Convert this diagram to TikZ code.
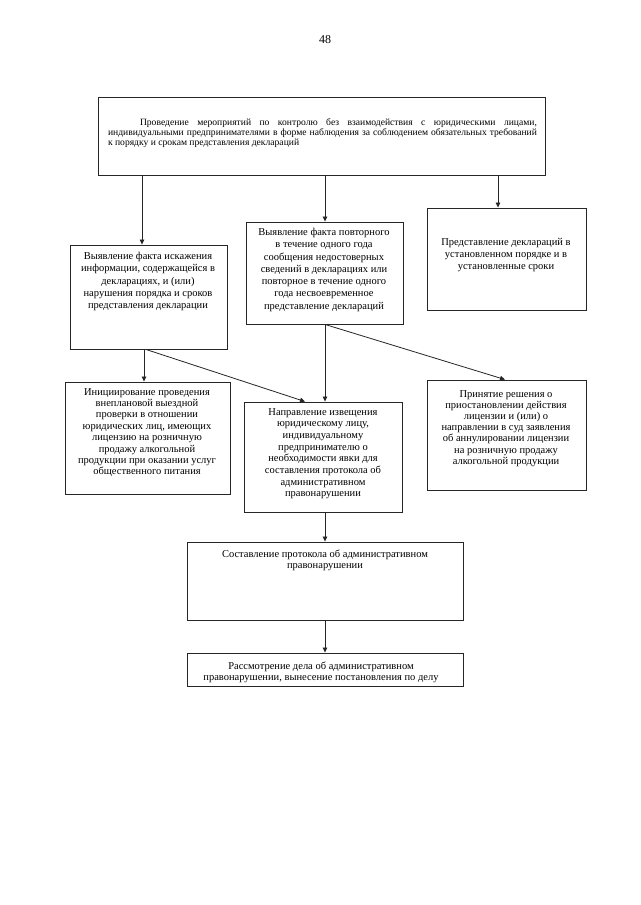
\documentclass[tikz,border=0pt]{standalone}
\usepackage{fontspec}
\setmainfont{Liberation Serif}
\usetikzlibrary{arrows.meta,fit}
\tikzset{
  box/.style={draw=black!85, line width=0.9pt, inner sep=0pt},
  txt/.style={align=center, font=\fontsize{10.5}{11.8}\selectfont, inner sep=0pt, anchor=north},
  arr/.style={-{Triangle[length=5pt,width=4.5pt]}, line width=0.8pt, draw=black!85}
}
\begin{document}
\begin{tikzpicture}[x=1pt,y=-1pt]
\useasboundingbox[fill=white] (0,0) rectangle (640,905);
\node[font=\fontsize{12}{14}\selectfont] (pg) at (325,40) {48};

% boxes
\node[box, fit={(98,97) (545,175)}] (top) {};
\node[box, fit={(70,245) (227,349)}] (L2) {};
\node[box, fit={(246,222) (403,324)}] (M3) {};
\node[box, fit={(427,208) (586,310)}] (R4) {};
\node[box, fit={(65,382) (230,494)}] (L5) {};
\node[box, fit={(244,402) (402,512)}] (M6) {};
\node[box, fit={(427,380) (586,490)}] (R7) {};
\node[box, fit={(187,542) (463,620)}] (B8) {};
\node[box, fit={(187,653) (463,686)}] (B9) {};

% texts
\node[txt, align=justify, text width=429pt, font=\fontsize{9.6}{10}\selectfont] (topt) at (322.5,118) {\hspace*{32pt}Проведение мероприятий по контролю без взаимодействия с юридическими лицами,\linebreak индивидуальными предпринимателями в форме наблюдения за соблюдением обязательных требований\linebreak к порядку и срокам представления деклараций};
\node[txt, font=\fontsize{10.5}{12.3}\selectfont] (L2t) at (148,252) {Выявление факта искажения\\ информации, содержащейся в\\ декларациях, и (или)\\ нарушения порядка и сроков\\ представления декларации};
\node[txt, font=\fontsize{10.5}{12.3}\selectfont] (M3t) at (324,228) {Выявление факта повторного\\ в течение одного года\\ сообщения недостоверных\\ сведений в декларациях или\\ повторное в течение одного\\ года несвоевременное\\ представление деклараций};
\node[txt, font=\fontsize{10.5}{12}\selectfont] (R4t) at (506,238) {Представление деклараций в\\ установленном порядке и в\\ установленные сроки};
\node[txt, font=\fontsize{10.5}{11.4}\selectfont] (L5t) at (147,388) {Инициирование проведения\\ внеплановой выездной\\ проверки в отношении\\ юридических лиц, имеющих\\ лицензию на розничную\\ продажу алкогольной\\ продукции при оказании услуг\\ общественного питания};
\node[txt, font=\fontsize{10.5}{11.7}\selectfont] (M6t) at (323,408) {Направление извещения\\ юридическому лицу,\\ индивидуальному\\ предпринимателю о\\ необходимости явки для\\ составления протокола об\\ административном\\ правонарушении};
\node[txt, font=\fontsize{10.5}{11.2}\selectfont] (R7t) at (506,390) {Принятие решения о\\ приостановлении действия\\ лицензии и (или) о\\ направлении в суд заявления\\ об аннулировании лицензии\\ на розничную продажу\\ алкогольной продукции};
\node[txt, font=\fontsize{10.5}{11}\selectfont] (B8t) at (325,550) {Составление протокола об административном\\ правонарушении};
\node[txt, font=\fontsize{10.5}{11}\selectfont] (B9t) at (321,662) {Рассмотрение дела об административном\\ правонарушении, вынесение постановления по делу};

% connectors
\draw[arr] (top.south -| 142,0) -- (L2.north -| 142,0);
\draw[arr] (top.south -| 325,0) -- (M3.north -| 325,0);
\draw[arr] (top.south -| 498,0) -- (R4.north -| 498,0);
\draw[arr] (L2.south -| 144,0) -- (L5.north -| 144,0);
\draw[arr] (L2.south -| 146,0) -- (M6.north -| 305,0);
\draw[arr] (M3.south -| 325,0) -- (M6.north -| 325,0);
\draw[arr] (M3.south -| 325,0) -- (R7.north -| 505,0);
\draw[arr] (M6.south -| 325,0) -- (B8.north -| 325,0);
\draw[arr] (B8.south -| 325,0) -- (B9.north -| 325,0);
\end{tikzpicture}
\end{document}
